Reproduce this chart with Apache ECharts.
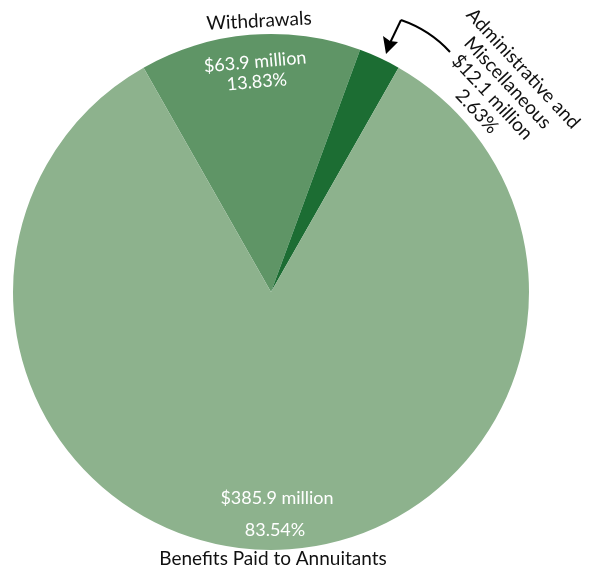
<!DOCTYPE html>
<html><head><meta charset="utf-8">
<script src="https://cdn.jsdelivr.net/npm/echarts@6/dist/echarts.min.js"></script>
<style>html,body{margin:0;padding:0;background:#fff}#c{width:595px;height:579px}</style>
</head><body><div id="c"></div>
<script>
const categories = ['Withdrawals', 'Administrative and Miscellaneous', 'Benefits Paid to Annuitants'];
const amounts = [63.9, 12.1, 385.9];           // $ million
const amountLabels = ['$63.9 million', '$12.1 million', '$385.9 million'];
const percentLabels = ['13.83%', '2.63%', '83.54%'];
const colors = ['#5f9566', '#1c6d33', '#8db28d'];

const FONT = 'Lato, "Open Sans", sans-serif';
const chart = echarts.init(document.getElementById('c'), null, {renderer: 'canvas'});
const deg = Math.PI / 180;
const Z = 100;

chart.setOption({
  animation: false,
  backgroundColor: '#fff',
  series: [{
    type: 'pie',
    center: [271, 292],
    radius: 258,
    startAngle: 119.6,
    clockwise: true,
    silent: true,
    label: {show: false},
    labelLine: {show: false},
    itemStyle: {borderWidth: 0},
    data: categories.map((c, i) => ({name: c, value: amounts[i], itemStyle: {color: colors[i]}}))
  }],
  graphic: [
    {type: 'text', z: Z, x: 259, y: 21, rotation: 3 * deg,
     style: {text: categories[0], font: '19px ' + FONT, fill: '#111', align: 'center', verticalAlign: 'middle'}},
    {type: 'text', z: Z, x: 256, y: 72, rotation: 5 * deg,
     style: {text: amountLabels[0] + '\n' + percentLabels[0], font: '18px ' + FONT, fill: '#fff', align: 'center', verticalAlign: 'middle', lineHeight: 20}},
    {type: 'text', z: Z, x: 500, y: 90, rotation: -47 * deg,
     style: {text: 'Administrative and\nMiscellaneous\n' + amountLabels[1] + '\n' + percentLabels[1], font: '19px ' + FONT, fill: '#111', align: 'center', verticalAlign: 'middle', lineHeight: 21}},
    {type: 'text', z: Z, x: 277, y: 498,
     style: {text: amountLabels[2], font: '18px ' + FONT, fill: '#fff', align: 'center', verticalAlign: 'middle'}},
    {type: 'text', z: Z, x: 275, y: 530,
     style: {text: percentLabels[2], font: '18px ' + FONT, fill: '#fff', align: 'center', verticalAlign: 'middle'}},
    {type: 'text', z: Z, x: 273, y: 559,
     style: {text: categories[2], font: '19px ' + FONT, fill: '#111', align: 'center', verticalAlign: 'middle'}},
    {type: 'bezierCurve', z: Z, shape: {x1: 450, y1: 52, x2: 401, y2: 20, cpx1: 430, cpy1: 30},
     style: {stroke: '#000', lineWidth: 2, fill: null}},
    {type: 'line', z: Z, shape: {x1: 401, y1: 20, x2: 389, y2: 45}, style: {stroke: '#000', lineWidth: 2}},
    {type: 'polygon', z: Z, shape: {points: [[386, 54], [383, 36], [390, 41], [398, 42]]}, style: {fill: '#000'}}
  ]
});
</script></body></html>
